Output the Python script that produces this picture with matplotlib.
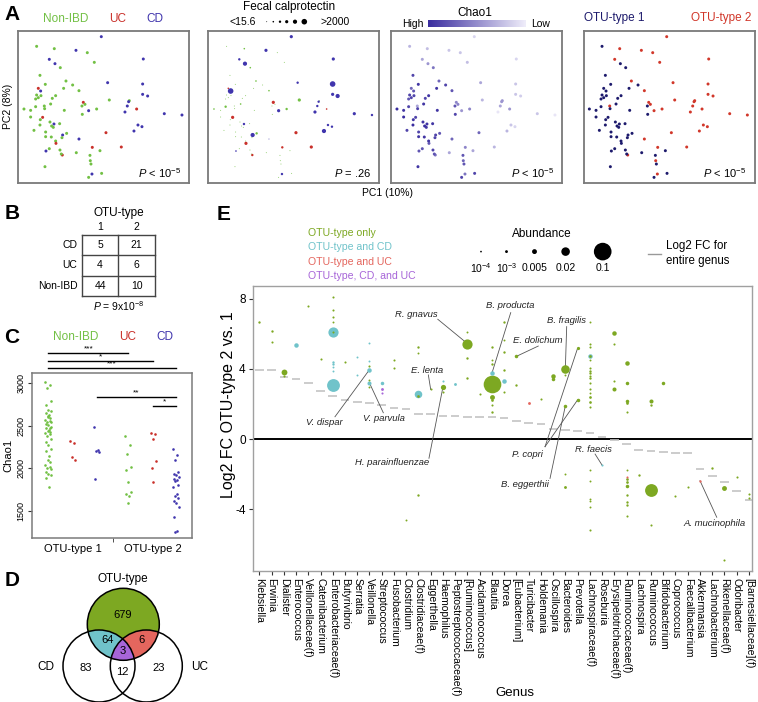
import numpy as np
import matplotlib
matplotlib.use("Agg")
import matplotlib.pyplot as plt
from matplotlib.colors import LinearSegmentedColormap
from matplotlib.patches import Circle, Polygon

plt.rcParams['font.family'] = ['Liberation Sans', 'DejaVu Sans']
plt.rcParams['mathtext.fontset'] = 'custom'
plt.rcParams['mathtext.rm'] = 'Liberation Sans'
plt.rcParams['mathtext.it'] = 'Liberation Sans:italic'

# ---------------- A: samples on PC1 / PC2 ----------------
pc1 = [249, 55, 108, 173, 207, 93, 110, 228, 375, 126, 65, 81, 143, 163, 136, 60, 67, 182, 268, 373,
       55, 68, 60, 112, 102, 97, 52, 333, 373, 388, 195, 200, 17, 37, 52, 78, 79, 138, 191, 211,
       235, 273, 327, 331, 355, 320, 438, 491, 37, 73, 66, 192, 95, 107, 124, 65, 100, 105, 47, 82,
       145, 133, 131, 182, 263, 359, 371, 347, 82, 99, 112, 113, 93, 83, 125, 222, 245, 309, 174, 132,
       129, 215, 216, 218, 80, 250, 221, 211]
pc2 = [438, 409, 402, 397, 390, 370, 357, 361, 371, 345, 322, 295, 305, 293, 283, 283, 275, 276, 300, 296,
       263, 261, 255, 261, 253, 236, 251, 246, 265, 260, 241, 235, 221, 217, 228, 230, 222, 217, 230, 216,
       221, 248, 230, 243, 221, 212, 207, 203, 197, 196, 189, 205, 182, 176, 177, 173, 170, 166, 157, 152,
       148, 143, 135, 131, 150, 173, 168, 155, 138, 137, 125, 118, 102, 95, 98, 106, 96, 107, 90, 83,
       86, 82, 66, 56, 48, 28, 26, 16]
diagnosis = list("CNNCNCCNCNNNNNNUCNCC"
                 "NNNNNNNNCCUNNNNNNNNC"
                 "NNCCUCCCNUNNNCNNNNNN"
                 "NCNCUCCCNNNUNCNUNUNU"
                 "NNNNNNCN")
otu_type = [2, 1, 2, 2, 2, 2, 1, 2, 2, 1, 1, 1, 2, 1, 1, 1, 1, 2, 2, 2,
            1, 1, 1, 1, 1, 1, 1, 2, 2, 2, 2, 2, 1, 1, 1, 2, 1, 1, 1, 2,
            2, 2, 2, 2, 2, 2, 2, 2, 1, 1, 1, 1, 1, 1, 1, 1, 1, 1, 1, 1,
            1, 1, 1, 2, 2, 2, 2, 2, 1, 1, 1, 1, 1, 1, 1, 2, 1, 2, 1, 2,
            1, 1, 2, 1, 1, 1, 2, 1]
calprotectin = [400, 10, 20, 200, 10, 150, 1500, 10, 300, 20, 10, 10, 20, 10, 10, 30, 2500, 20, 150, 2000,
                10, 10, 10, 10, 15, 20, 10, 10, 200, 800, 300, 10, 20, 10, 50, 10, 10, 10, 10, 300,
                150, 200, 100, 80, 40, 300, 200, 150, 10, 300, 10, 10, 10, 150, 10, 10, 10, 15, 10, 10,
                150, 800, 10, 10, 200, 50, 50, 900, 10, 10, 10, 200, 10, 30, 10, 100, 10, 400, 10, 150,
                10, 10, 10, 10, 10, 10, 150, 10]
chao1_sample = [1600, 1800, 1750, 1700, 1700, 1900, 2000, 1750, 1600, 2200, 2500, 2600, 2300, 2500, 2600, 2300, 2400, 2400, 1900, 1700,
                2500, 2500, 2500, 2600, 2500, 2600, 2400, 2000, 1700, 1650, 2100, 2100, 2700, 2600, 2500, 1900, 2500, 2600, 2400, 2000,
                2100, 1800, 1900, 2000, 2000, 1500, 1700, 1500, 2700, 2500, 2600, 2500, 2600, 2600, 2600, 2700, 2700, 2600, 2500, 2500,
                2400, 2500, 2500, 2300, 2300, 1700, 1600, 1800, 2600, 2600, 2600, 2400, 2400, 2400, 2500, 2100, 1900, 1800, 1900, 2200,
                2400, 2400, 2300, 2400, 2600, 2500, 2200, 2500]
cal_bins = [15.6, 50, 200, 500, 2000]
cal_legend = [10, 30, 100, 300, 1000, 2500]

# ---------------- B: contingency table ----------------
table_rows = ["CD", "UC", "Non-IBD"]
table_counts = [[5, 21], [4, 6], [44, 10]]

# ---------------- C: Chao1 by OTU-type and diagnosis ----------------
chao_groups = ["Non-IBD", "UC", "CD", "Non-IBD", "UC", "CD"]
chao_values = [
    [3010, 2980, 2950, 2790, 2740, 2690, 2670, 2650, 2630, 2610, 2590, 2570, 2560, 2550, 2540,
     2520, 2510, 2490, 2470, 2450, 2440, 2430, 2420, 2400, 2380, 2350, 2310, 2270, 2230, 2200,
     2150, 2100, 2080, 2040, 2020, 2000, 1990, 1960, 1930, 1920, 1890, 1780, 2600, 2480],
    [2320, 2300, 2130, 2100],
    [2490, 2220, 2210, 2195, 1880],
    [2380, 2280, 2170, 2020, 1980, 1840, 1720, 1700, 1680, 1600],
    [2420, 2400, 2340, 2090, 2010, 1840],
    [2230, 2160, 2100, 1960, 1940, 1920, 1900, 1880, 1870, 1850, 1810, 1780, 1700, 1680, 1650,
     1620, 1590, 1550, 1430, 1260, 1250],
]
sig_pairs = [(0, 3, 3351, "***"), (0, 4, 3265, "*"), (0, 5, 3183, "***"), (2, 5, 2836, "**"), (4, 5, 2738, "*")]

# ---------------- D: Venn counts ----------------
venn_counts = {"OTU": 679, "OTU_CD": 64, "OTU_UC": 6, "ALL": 3, "CD": 83, "CD_UC": 12, "UC": 23}

# ---------------- E: per-OTU log2 fold change by genus ----------------
genera = ["Klebsiella", "Erwinia", "Dialister", "Enterococcus", "Veillonellaceae(f)", "Catenibacterium",
          "Enterobacteriaceae(f)", "Butyrivibrio", "Serratia", "Veillonella", "Streptococcus", "Fusobacterium",
          "Clostridium", "Clostridiaceae(f)", "Eggerthella", "Haemophilus", "Peptostreptococcaceae(f)",
          "[Ruminococcus]", "Acidaminococcus", "Blautia", "Dorea", "[Eubacterium]", "Turicibacter",
          "Holdemania", "Oscillospira", "Bacteroides", "Prevotella", "Lachnospiraceae(f)", "Roseburia",
          "Erysipelotrichaceae(f)", "Ruminococcaceae(f)", "Lachnospira", "Ruminococcus", "Bifidobacterium",
          "Coprococcus", "Faecalibacterium", "Akkermansia", "Lachnobacterium", "Rikenellaceae(f)",
          "Odoribacter", "[Barnesiellaceae](f)"]
genus_fc = [3.94, 3.94, 3.55, 3.43, 3.18, 2.72, 2.46, 2.23, 2.12, 2.08, 1.94, 1.78, 1.72, 1.45, 1.41,
            1.33, 1.30, 1.26, 1.24, 1.24, 1.22, 1.05, 0.92, 0.88, 0.57, 0.51, 0.45, 0.32, 0.13, -0.05,
            -0.30, -0.61, -0.70, -0.76, -0.78, -0.82, -1.71, -2.12, -2.44, -2.97, -3.49]
otu_fc = [[6.67], [6.19, 5.56], [3.81, 3.58], [5.37], [7.58], [4.57],
          [8.10, 7.39, 6.95, 6.67, 6.13, 6.13, 4.38, 4.29, 4.10, 3.87, 3.09],
          [4.42], [4.70, 3.68], [5.47, 4.48, 4.19, 3.96, 3.35, 3.20, 2.95], [3.18, 2.88, 2.61],
          [4.51, 4.06], [-4.61], [5.23, 4.90, 2.55, 2.47, -3.18], [2.83], [3.33, 2.96, 2.69], [3.14],
          [6.09, 5.45, 4.61, 3.47], [2.55], [5.28, 4.51, 4.29, 3.75, 3.14, 2.38, 2.23, 1.94, 1.56],
          [6.70, 5.66, 4.99, 3.94, 3.33, 2.70], [4.72, 3.09], [2.07], [2.30], [3.58, 3.45],
          [3.98, 3.66, 1.89, -2.02, -2.72], [5.18, 2.23],
          [6.70, 5.45, 5.26, 4.75, 4.75, 4.50, 4.07, 3.90, 3.75, 3.60, 3.47, 3.20, 2.86, 2.63, 2.38,
           2.10, 1.85, -1.75, -2.38, -3.43, -3.56, -3.86, -5.17],
          [-1.49], [6.07, 5.45, 3.30, 2.86],
          [4.36, 3.18, 2.15, 2.05, 1.52, -1.77, -2.15, -2.29, -2.48, -2.67, -3.18, -3.62, -3.75, -4.38],
          [-2.08], [2.15, 1.92, -2.94, -4.91], [3.18], [-3.24], [-2.73], [-2.38], [-1.66],
          [-2.80, -6.90], [-2.19], [-3.14, -3.39]]
otu_abund = [[5e-4], [5e-4, 3e-4], [0.008, 3e-4], [0.004], [3e-4], [3e-4],
             [3e-4, 3e-4, 3e-4, 2e-4, 0.03, 3e-4, 5e-4, 5e-4, 2e-4, 2e-4, 0.05],
             [3e-4], [2e-4, 2e-4], [2e-4, 2e-4, 3e-4, 0.004, 2e-4, 0.003, 2e-4], [0.002, 0.001, 3e-4],
             [3e-4, 3e-4], [2e-4], [5e-4, 2e-4, 0.015, 8e-4, 5e-4], [3e-4], [3e-4, 0.006, 3e-4], [0.001],
             [2e-4, 0.03, 5e-4, 5e-4], [3e-4], [5e-4, 2e-4, 5e-4, 0.004, 0.1, 0.005, 8e-4, 3e-4, 5e-4],
             [5e-4, 2e-4, 5e-4, 5e-4, 0.004, 3e-4], [0.002, 5e-4], [0.001], [3e-4], [0.004, 0.002],
             [0.02, 2e-4, 0.002, 2e-4, 0.001], [0.0015, 0.002],
             [2e-4, 3e-4, 3e-4, 0.004, 8e-4, 2e-4, 3e-4, 5e-4, 5e-4, 3e-4, 5e-4, 3e-4, 3e-4, 2e-4, 8e-4,
              8e-4, 3e-4, 2e-4, 2e-4, 2e-4, 2e-4, 2e-4, 3e-4],
             [3e-4], [0.004, 3e-4, 3e-4, 0.003],
             [0.004, 0.002, 0.002, 8e-4, 3e-4, 2e-4, 3e-4, 8e-4, 8e-4, 0.002, 5e-4, 5e-4, 5e-4, 3e-4],
             [5e-4], [0.003, 5e-4, 0.05, 3e-4], [0.002], [3e-4], [3e-4], [5e-4], [5e-4],
             [0.005, 3e-4], [3e-4], [3e-4, 3e-4]]
otu_set = ["g", "gg", "gg", "c", "g", "g", "ggggcgccccc", "g", "cc", "ccgcgcg", "cpp", "gg", "g", "ggcgg",
           "g", "cgg", "c", "gggg", "g", "gggcggggg", "ggggcg", "gg", "r", "g", "gg", "ggggg", "gg",
           "gggcggggggggggggggggggg", "c", "gggg", "ggggggrggggggg", "g", "gggg", "g", "g", "g", "r", "g",
           "gg", "g", "gg"]
abund_legend = [1e-4, 1e-3, 0.005, 0.02, 0.1]
abund_labels = ["10$^{-4}$", "10$^{-3}$", "0.005", "0.02", "0.1"]
set_names = ["OTU-type only", "OTU-type and CD", "OTU-type and UC", "OTU-type, CD, and UC"]
# label, text position, line start, targets (genus index, log2 FC)
callouts = [
    ("R. gnavus", (12.80, 7.09), (14.58, 6.84), [(17, 5.45)]),
    ("B. producta", (20.48, 7.60), (20.54, 7.22), [(19, 3.75)]),
    ("B. fragilis", (25.06, 6.76), (25.11, 6.42), [(25, 3.98)]),
    ("E. dolichum", (22.77, 5.62), (22.79, 5.31), [(21, 4.72)]),
    ("E. lenta", (13.70, 3.94), (13.81, 3.66), [(14, 2.83)]),
    ("V. dispar", (5.34, 0.93), (6.18, 1.27), [(9, 3.96)]),
    ("V. parvula", (10.15, 1.18), (10.13, 1.50), [(9, 3.20)]),
    ("H. parainfluenzae", (10.84, -1.33), (13.86, -1.10), [(15, 2.96)]),
    ("P. copri", (21.91, -0.86), (23.34, -0.44), [(26, 5.18), (26, 2.23)]),
    ("B. eggerthii", (21.71, -2.59), (23.75, -2.25), [(25, 1.89)]),
    ("R. faecis", (27.26, -0.59), (27.43, -0.86), [(28, -1.49)]),
    ("A. mucinophila", (37.19, -4.82), (37.37, -4.47), [(36, -2.38)]),
]

# ---------------- colours ----------------
dx_col = {"N": "#72c044", "U": "#c9302a", "C": "#4035ad"}
type_col = {1: "#1d1a6c", 2: "#d1372a"}
set_col = {"g": "#7da822", "c": "#70c3ca", "r": "#e4665e", "p": "#a765d8"}
chao_cmap = LinearSegmentedColormap.from_list("chao", ["#efedfa", "#3a2d9f"])
GRAY = "#8a8a8a"

W, H = 758, 702
fig = plt.figure(figsize=(W / 100, H / 100), dpi=100)


def px_axes(x0, y0, x1, y1):
    return fig.add_axes([x0 / W, 1 - y1 / H, (x1 - x0) / W, (y1 - y0) / H])


def gray_box(ax, col=GRAY, lw=1.2):
    for s in ax.spines.values():
        s.set_color(col)
        s.set_linewidth(lw)


def px2pt(d):
    return (d * 0.72) ** 2


# ---------------- panel A ----------------
a_boxes = [(18.3, 31, 189.3, 182.7), (208.3, 31, 379.3, 182.7),
           (391.3, 31, 562.3, 182.7), (583.7, 31, 754.7, 182.7)]
a_pvals = [r"$P$ < 10$^{-5}$", r"$P$ = .26", r"$P$ < 10$^{-5}$", r"$P$ < 10$^{-5}$"]
cal_d = np.array([0.9, 1.6, 2.4, 3.2, 4.2, 5.6])
x1 = np.array(pc1)
y1 = np.array(pc2)
for k, box in enumerate(a_boxes):
    ax = px_axes(*box)
    if k == 0:
        ax.scatter(x1, y1, s=px2pt(3), c=[dx_col[d] for d in diagnosis], lw=0)
    elif k == 1:
        d = cal_d[np.digitize(calprotectin, cal_bins)]
        ax.scatter(x1, y1, s=px2pt(d), c=[dx_col[v] for v in diagnosis], lw=0)
    elif k == 2:
        ax.scatter(x1, y1, s=px2pt(3), c=chao1_sample, cmap=chao_cmap, vmin=1450, vmax=2650, lw=0)
    else:
        ax.scatter(x1, y1, s=px2pt(3), c=[type_col[t] for t in otu_type], lw=0)
    ax.set_xlim(0, 513)
    ax.set_ylim(0, 455)
    ax.set_xticks([])
    ax.set_yticks([])
    gray_box(ax, "#7a7a7a", 1.3)
    ax.text(0.95, 0.066, a_pvals[k], transform=ax.transAxes, ha="right", va="center", fontsize=8)

# ---------------- panel B ----------------
axb = px_axes(81.7, 235, 155, 296)
axb.set_xlim(0, 2)
axb.set_ylim(3, 0)
axb.axis("off")
for v in range(3):
    axb.plot([v, v], [0, 3], color="#444444", lw=1, clip_on=False)
for h in range(4):
    axb.plot([0, 2], [h, h], color="#444444", lw=1, clip_on=False)
for r, name in enumerate(table_rows):
    axb.text(-0.12, r + 0.5, name, ha="right", va="center", fontsize=7.5)
    for c in range(2):
        axb.text(c + 0.5, r + 0.5, str(table_counts[r][c]), ha="center", va="center", fontsize=7.5)
for c in range(2):
    axb.text(c + 0.5, -0.38, str(c + 1), ha="center", va="center", fontsize=7.5)
axb.text(1, -1.08, "OTU-type", ha="center", va="center", fontsize=8.5)
axb.text(1, 3.5, r"$P$ = 9x10$^{-8}$", ha="center", va="center", fontsize=7.5)

# ---------------- panel C ----------------
axc = px_axes(31.7, 373.3, 192.3, 538.3)
group_x = [1.0, 2.0, 2.98, 4.28, 5.31, 6.23]
jit = np.array([-0.12, 0.06, -0.04, 0.1, -0.08, 0.0, 0.12, -0.1, 0.04, -0.02, 0.08])
grp_key = {"Non-IBD": "N", "UC": "U", "CD": "C"}
for gx, name, vals in zip(group_x, chao_groups, chao_values):
    xs = gx + np.resize(jit, len(vals))
    axc.scatter(xs, vals, s=px2pt(2.6), color=dx_col[grp_key[name]], lw=0, zorder=3)
for g1, g2, yv, lab in sig_pairs:
    axc.plot([group_x[g1], group_x[g2]], [yv, yv], color="black", lw=1, clip_on=False)
    axc.text((group_x[g1] + group_x[g2]) / 2, yv + 8, lab, ha="center", va="bottom", fontsize=6)
axc.set_xlim(0.32, 6.9)
axc.set_ylim(1180, 3117)
axc.set_yticks([1500, 2000, 2500, 3000])
axc.set_yticklabels(["1500", "2000", "2500", "3000"], rotation=90, va="center", fontsize=6.5)
axc.set_xticks([np.mean(group_x[:3]), np.mean(group_x[3:])])
axc.set_xticklabels(["OTU-type 1", "OTU-type 2"], fontsize=8)
axc.tick_params(axis="x", length=0, pad=4)
axc.tick_params(axis="y", length=3, pad=1.5, color="#333333")
axc.set_xticks([(group_x[2] + group_x[3]) / 2 + 0.03], minor=True)
axc.tick_params(axis="x", which="minor", length=3, color="#333333")
axc.set_ylabel("Chao1", fontsize=8, labelpad=2)
gray_box(axc, "#7a7a7a", 1.1)

# ---------------- panel D ----------------
axd = px_axes(30, 566, 215, 702)
axd.set_xlim(30, 215)
axd.set_ylim(702, 566)
axd.set_aspect("equal")
axd.axis("off")
c_top, c_cd, c_uc, rad = (123.3, 624.3), (99.0, 666.0), (146.3, 666.0), 36.0


def disc_intersection(discs, n=720):
    pts = []
    t = np.linspace(0, 2 * np.pi, n, endpoint=False)
    for (cx, cy) in discs:
        p = np.column_stack([cx + rad * np.cos(t), cy + rad * np.sin(t)])
        keep = np.ones(len(p), bool)
        for (ox, oy) in discs:
            keep &= np.hypot(p[:, 0] - ox, p[:, 1] - oy) <= rad + 1e-6
        pts.append(p[keep])
    pts = np.vstack(pts)
    ctr = pts.mean(axis=0)
    return pts[np.argsort(np.arctan2(pts[:, 1] - ctr[1], pts[:, 0] - ctr[0]))]


axd.add_patch(Circle(c_top, rad, facecolor=set_col["g"], edgecolor="none"))
axd.add_patch(Polygon(disc_intersection([c_top, c_cd]), closed=True, facecolor=set_col["c"], edgecolor="none"))
axd.add_patch(Polygon(disc_intersection([c_top, c_uc]), closed=True, facecolor=set_col["r"], edgecolor="none"))
axd.add_patch(Polygon(disc_intersection([c_top, c_cd, c_uc]), closed=True, facecolor=set_col["p"], edgecolor="none"))
for cc in (c_top, c_cd, c_uc):
    axd.add_patch(Circle(cc, rad, facecolor="none", edgecolor="black", lw=1.1))
venn_pos = {"OTU": (123, 615), "OTU_CD": (107.7, 639.7), "OTU_UC": (141.7, 640), "ALL": (122.7, 650.7),
            "CD": (86, 668), "CD_UC": (122.7, 672), "UC": (158.7, 668)}
for key, n in venn_counts.items():
    axd.text(*venn_pos[key], str(n), ha="center", va="center", fontsize=8)
axd.text(123, 579, "OTU-type", ha="center", va="center", fontsize=8.5)
axd.text(45.7, 666.7, "CD", ha="center", va="center", fontsize=8.5)
axd.text(200, 666.7, "UC", ha="center", va="center", fontsize=8.5)

# ---------------- panel E ----------------
axe = px_axes(252.7, 286, 752, 571)


def abund_d(a):
    return 52 * np.sqrt(np.asarray(a)) + 1.2


gx_all, fc_all, ab_all, col_all = [], [], [], []
for i in range(len(genera)):
    for f, a, s in zip(otu_fc[i], otu_abund[i], otu_set[i]):
        gx_all.append(i)
        fc_all.append(f)
        ab_all.append(a)
        col_all.append(set_col[s])
order = np.argsort(ab_all)[::-1]
gx_all = np.array(gx_all)[order]
fc_all = np.array(fc_all)[order]
ab_all = np.array(ab_all)[order]
col_all = np.array(col_all)[order]
axe.axhline(0, color="black", lw=1.4, zorder=1)
axe.hlines(genus_fc, np.arange(len(genera)) - 0.35, np.arange(len(genera)) + 0.35,
           color="#c4c4c4", lw=1.2, zorder=1)
for lab, tpos, start, targets in callouts:
    for tg in targets:
        axe.plot([start[0], tg[0]], [start[1], tg[1]], color="#555555", lw=0.6, zorder=2)
    axe.text(tpos[0], tpos[1], lab, ha="center", va="center", fontsize=6.8, style="italic",
             color="#222222", zorder=4)
for k in range(len(fc_all)):
    axe.scatter(gx_all[k], fc_all[k], s=px2pt(abund_d(ab_all[k])), color=col_all[k], lw=0, zorder=3)
axe.set_xlim(-0.54, 40.25)
axe.set_ylim(-7.54, 8.74)
axe.set_yticks([-4, 0, 4, 8])
axe.set_yticklabels(["-4", "0", "4", "8"], fontsize=8.5)
axe.set_xticks(range(len(genera)))
axe.set_xticklabels(genera, rotation=-90, fontsize=7.5, va="top", ha="center")
axe.tick_params(length=3, color="#333333", pad=2)
gray_box(axe, "#a0a0a0", 1.0)

# ---------------- overlay texts / legends ----------------
ov = fig.add_axes([0, 0, 1, 1], zorder=10)
ov.axis("off")
for letter, (lx, ly) in zip("ABCDE", [(12, 15), (12, 213.5), (12, 337.5), (12, 581), (224, 215)]):
    ov.text(lx, ly, letter, ha="center", va="center", fontsize=15, fontweight="bold")
for name, xx in zip(["Non-IBD", "UC", "CD"], [65.7, 117.7, 155]):
    ov.text(xx, 19.3, name, color=dx_col[grp_key[name]], ha="center", va="center", fontsize=8.5)
ov.text(289.3, 7, "Fecal calprotectin", ha="center", va="center", fontsize=8.5)
ov.text(242.3, 21.7, "<15.6", ha="center", va="center", fontsize=7.5)
ov.text(335, 21.7, ">2000", ha="center", va="center", fontsize=7.5)
ov.scatter([266.7, 273.3, 280, 286.7, 295, 304.3], [21.7] * 6,
           s=px2pt(cal_d[np.digitize(cal_legend, cal_bins)]), color="black", lw=0)
ov.text(474.7, 12.7, "Chao1", ha="center", va="center", fontsize=8.5)
ov.text(413, 24, "High", ha="center", va="center", fontsize=7.5)
ov.text(540.7, 24, "Low", ha="center", va="center", fontsize=7.5)
ov.imshow(np.linspace(1, 0, 200)[None, :], cmap=chao_cmap, extent=(428, 525.7, 26.7, 20), aspect="auto")
ov.text(614, 18.3, "OTU-type 1", color=type_col[1], ha="center", va="center", fontsize=8.5)
ov.text(721.3, 18.3, "OTU-type 2", color=type_col[2], ha="center", va="center", fontsize=8.5)
ov.text(8, 106.7, "PC2 (8%)", rotation=90, ha="center", va="center", fontsize=7.5)
ov.text(388, 192.7, "PC1 (10%)", ha="center", va="center", fontsize=7.5)
for name, xx in zip(["Non-IBD", "UC", "CD"], [76, 127.7, 165]):
    ov.text(xx, 336.7, name, color=dx_col[grp_key[name]], ha="center", va="center", fontsize=8.5)
for j, (name, key) in enumerate(zip(set_names, "gcrp")):
    ov.text(308, 233 + 14.3 * j, name, color=set_col[key], ha="left", va="center", fontsize=7.6)
ov.text(542, 234, "Abundance", ha="center", va="center", fontsize=8.5)
leg_x = [481, 506.5, 534.5, 565.6, 602.7]
ov.scatter(leg_x, [251.6] * 5, s=px2pt(abund_d(abund_legend)), color="black", lw=0)
for xx, lab in zip(leg_x, abund_labels):
    ov.text(xx, 268.4, lab, ha="center", va="center", fontsize=7.5)
ov.plot([647.8, 661], [253.7, 253.7], color="#999999", lw=1)
ov.text(666, 246, "Log2 FC for", ha="left", va="center", fontsize=8.3)
ov.text(666, 261, "entire genus", ha="left", va="center", fontsize=8.3)
ov.text(229, 405, "Log2 FC OTU-type 2 vs. 1", rotation=90, ha="center", va="center", fontsize=11.5)
ov.text(515, 693, "Genus", ha="center", va="center", fontsize=9.5)
ov.set_xlim(0, W)
ov.set_ylim(H, 0)

fig.savefig("out.png", dpi=100)
